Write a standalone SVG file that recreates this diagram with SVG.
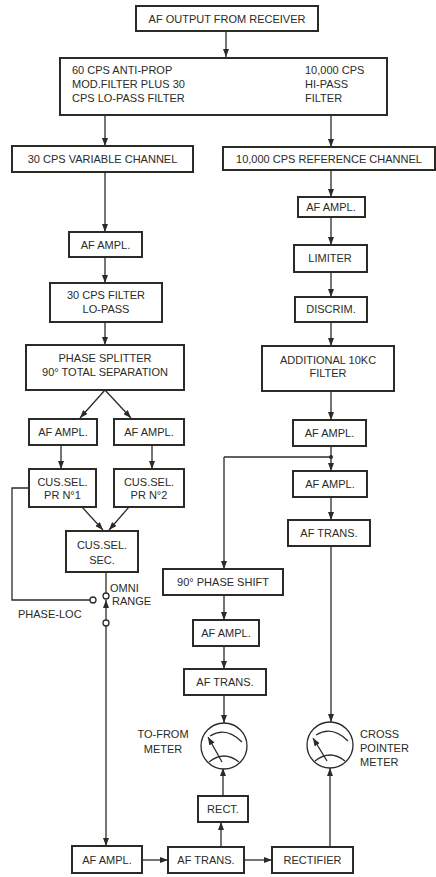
<svg xmlns="http://www.w3.org/2000/svg" width="436" height="877" viewBox="0 0 436 877">
<style>
.b{fill:#fff;stroke:#2b2b26;stroke-width:2}
.t{font-family:"Liberation Sans",Arial,sans-serif;font-size:11px;fill:#2b2b26;text-anchor:middle}
.l{text-anchor:start}
.c{fill:none;stroke:#2b2b26;stroke-width:1.3}
.a{marker-end:url(#ah)}
.o{fill:#fff;stroke:#2b2b26;stroke-width:1.3}
</style>
<defs>
<marker id="ah" markerUnits="userSpaceOnUse" markerWidth="8" markerHeight="6" refX="8" refY="3" orient="auto">
<path d="M0,0 L8,3 L0,6 z" fill="#2b2b26"/>
</marker>
</defs>
<rect width="436" height="877" fill="#fff"/>
<g id="connectors">
<path class="c a" d="M226,31 V57"/>
<path class="c a" d="M105,115 V146"/>
<path class="c a" d="M331,115 V147"/>
<path class="c a" d="M105,172 V232"/>
<path class="c a" d="M105,257 V283"/>
<path class="c a" d="M105,322 V345"/>
<path class="c a" d="M105,390 L80,418"/>
<path class="c a" d="M105,390 L131,418"/>
<path class="c a" d="M61,445 V469"/>
<path class="c a" d="M152,445 V469"/>
<path class="c a" d="M82,507 L103,530"/>
<path class="c a" d="M129,507 L109,530"/>
<path class="c" d="M29,488 H12 V600 H90"/>
<path class="c" d="M106,572 V593"/>
<path class="c a" d="M106,620 V600"/>
<path class="c a" d="M106,626 V846"/>
<path class="c a" d="M331,170 V197"/>
<path class="c a" d="M331,217 V245"/>
<path class="c a" d="M331,272 V297"/>
<path class="c a" d="M331,322 V346"/>
<path class="c a" d="M331,391 V420"/>
<path class="c a" d="M331,446 V471"/>
<path class="c" d="M331,457 H224"/>
<path class="c a" d="M224,457 V569"/>
<circle cx="331" cy="457" r="2" fill="#2b2b26"/>
<path class="c a" d="M331,497 V520"/>
<path class="c a" d="M331,546 V722"/>
<path class="c a" d="M224,595 V620"/>
<path class="c a" d="M224,646 V669"/>
<path class="c a" d="M224,695 V723"/>
<path class="c a" d="M223,796 V768"/>
<path class="c a" d="M221,847 V822"/>
<path class="c a" d="M142,860 H168"/>
<path class="c a" d="M244,860 H272"/>
<path class="c a" d="M330,847 V768"/>
</g>
<g id="switch">
<circle class="o" cx="93" cy="600" r="3"/>
<circle class="o" cx="106" cy="596" r="3"/>
<circle class="o" cx="106" cy="623" r="3"/>
<text class="t l" x="110" y="592">OMNI</text>
<text class="t l" x="112" y="605">RANGE</text>
<text class="t l" x="18" y="618">PHASE-LOC</text>
</g>
<g id="n1"><rect class="b" x="136" y="6" width="182" height="25"/><text class="t" x="227" y="22.5">AF OUTPUT FROM RECEIVER</text></g>
<g id="n2"><rect class="b" x="60" y="58" width="327" height="57"/>
<text class="t l" x="72" y="74">60 CPS ANTI-PROP</text>
<text class="t l" x="72" y="88">MOD.FILTER PLUS 30</text>
<text class="t l" x="72" y="102">CPS LO-PASS FILTER</text>
<text class="t l" x="305" y="74">10,000 CPS</text>
<text class="t l" x="305" y="88">HI-PASS</text>
<text class="t l" x="305" y="102">FILTER</text></g>
<g id="n3"><rect class="b" x="12" y="146" width="181" height="26"/><text class="t" x="102.5" y="163">30 CPS VARIABLE CHANNEL</text></g>
<g id="n4"><rect class="b" x="223" y="147" width="212" height="23"/><text class="t" x="329" y="163">10,000 CPS REFERENCE CHANNEL</text></g>
<g id="n5"><rect class="b" x="69" y="232" width="73" height="25"/><text class="t" x="105.5" y="249">AF AMPL.</text></g>
<g id="n6"><rect class="b" x="50" y="283" width="112" height="39"/><text class="t" x="106" y="299">30 CPS FILTER</text><text class="t" x="106" y="313">LO-PASS</text></g>
<g id="n7"><rect class="b" x="26" y="345" width="158" height="45"/><text class="t" x="105" y="362">PHASE SPLITTER</text><text class="t" x="105" y="376">90° TOTAL SEPARATION</text></g>
<g id="n8"><rect class="b" x="29" y="419" width="68" height="26"/><text class="t" x="63" y="436">AF AMPL.</text></g>
<g id="n9"><rect class="b" x="114" y="419" width="70" height="26"/><text class="t" x="149" y="436">AF AMPL.</text></g>
<g id="n10"><rect class="b" x="29" y="469" width="67" height="38"/><text class="t" x="62.5" y="486">CUS.SEL.</text><text class="t" x="62.5" y="499">PR N°1</text></g>
<g id="n11"><rect class="b" x="114" y="469" width="70" height="38"/><text class="t" x="149" y="486">CUS.SEL.</text><text class="t" x="149" y="499">PR N°2</text></g>
<g id="n12"><rect class="b" x="66" y="531" width="72" height="41"/><text class="t" x="102" y="549">CUS.SEL.</text><text class="t" x="102" y="564">SEC.</text></g>
<g id="n13"><rect class="b" x="298" y="197" width="67" height="20"/><text class="t" x="331" y="211">AF AMPL.</text></g>
<g id="n14"><rect class="b" x="294" y="245" width="73" height="27"/><text class="t" x="330" y="262">LIMITER</text></g>
<g id="n15"><rect class="b" x="295" y="297" width="72" height="25"/><text class="t" x="331" y="313">DISCRIM.</text></g>
<g id="n16"><rect class="b" x="262" y="346" width="132" height="45"/><text class="t" x="328" y="364">ADDITIONAL 10KC</text><text class="t" x="328" y="377">FILTER</text></g>
<g id="n17"><rect class="b" x="293" y="420" width="73" height="26"/><text class="t" x="329.5" y="437">AF AMPL.</text></g>
<g id="n18"><rect class="b" x="293" y="471" width="74" height="26"/><text class="t" x="330" y="488">AF AMPL.</text></g>
<g id="n19"><rect class="b" x="288" y="520" width="82" height="26"/><text class="t" x="329" y="537">AF TRANS.</text></g>
<g id="n20"><rect class="b" x="163" y="569" width="120" height="26"/><text class="t" x="223" y="586">90° PHASE SHIFT</text></g>
<g id="n21"><rect class="b" x="193" y="620" width="66" height="26"/><text class="t" x="226" y="637">AF AMPL.</text></g>
<g id="n22"><rect class="b" x="184" y="669" width="82" height="26"/><text class="t" x="225" y="686">AF TRANS.</text></g>
<g id="n23"><circle class="o" cx="224" cy="746" r="23" stroke-width="2"/>
<path class="c" d="M210,736 Q226,726 242,742"/>
<path class="c a" d="M222,762 L208,737"/>
<path class="c" d="M209,762 Q224,750 239,762"/>
<text class="t" x="163" y="738">TO-FROM</text><text class="t" x="163" y="753">METER</text></g>
<g id="n24"><circle class="o" cx="330" cy="745" r="23" stroke-width="2"/>
<path class="c" d="M316,735 Q332,725 348,741"/>
<path class="c a" d="M327,761 L313,738"/>
<path class="c" d="M315,761 Q330,749 345,761"/>
<text class="t l" x="360" y="738">CROSS</text><text class="t l" x="360" y="752">POINTER</text><text class="t l" x="360" y="766">METER</text></g>
<g id="n25"><rect class="b" x="198" y="796" width="50" height="26"/><text class="t" x="223" y="813">RECT.</text></g>
<g id="n26"><rect class="b" x="72" y="846" width="70" height="27"/><text class="t" x="107" y="864">AF AMPL.</text></g>
<g id="n27"><rect class="b" x="168" y="847" width="76" height="26"/><text class="t" x="206" y="864">AF TRANS.</text></g>
<g id="n28"><rect class="b" x="272" y="847" width="81" height="26"/><text class="t" x="312.5" y="864">RECTIFIER</text></g>
</svg>
